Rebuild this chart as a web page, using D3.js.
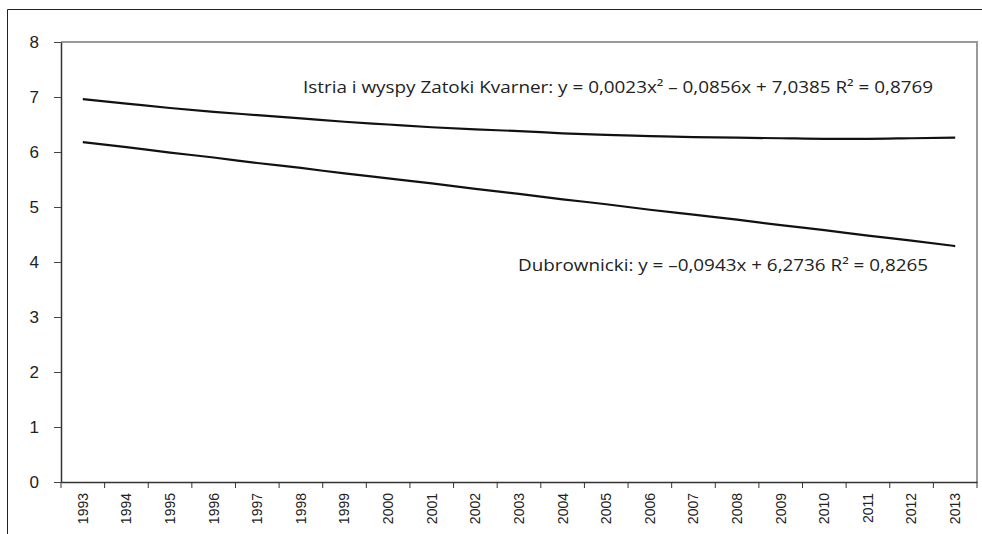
<!DOCTYPE html>
<html>
<head>
<meta charset="utf-8">
<script src="https://cdn.jsdelivr.net/npm/d3@7"></script>
<style>
  body { margin: 0; background: #fff; }
  svg { display: block; }
</style>
</head>
<body>
<div id="chart"></div>
<script>
// years on the category axis
const years = ["1993","1994","1995","1996","1997","1998","1999","2000","2001","2002",
  "2003","2004","2005","2006","2007","2008","2009","2010","2011","2012","2013"];
// trend values
const istria = [6.96,6.88,6.80,6.73,6.67,6.61,6.55,6.50,6.45,6.41,6.38,6.34,6.31,6.29,
  6.27,6.26,6.25,6.24,6.24,6.25,6.26];
const dubrownicki = [6.18,6.09,5.99,5.90,5.80,5.71,5.61,5.52,5.43,5.33,5.24,5.14,5.05,
  4.95,4.86,4.77,4.67,4.58,4.48,4.39,4.29];
const yTicks = [0,1,2,3,4,5,6,7,8];
const istriaLabel = "Istria i wyspy Zatoki Kvarner: y = 0,0023x\u00B2 \u2013 0,0856x + 7,0385 R\u00B2 = 0,8769";
const dubLabel = "Dubrownicki: y = \u20130,0943x + 6,2736 R\u00B2 = 0,8265";

const W = 982, H = 534;
const plot = {left: 61, top: 42, right: 977, bottom: 482};

const svg = d3.select("#chart").append("svg")
  .attr("width", W).attr("height", H);

// outer frame (top and left only visible)
svg.append("path")
  .attr("d", `M7.5,${H} V9.5 H${W}`)
  .attr("fill", "none").attr("stroke", "#222").attr("stroke-width", 1);

const x = d3.scaleBand().domain(years).range([plot.left, plot.right]);
const y = d3.scaleLinear().domain([0, 8]).range([plot.bottom, plot.top]);

// plot area border top/right in grey
svg.append("path")
  .attr("d", `M${plot.left},${plot.top} H${plot.right} V${plot.bottom}`)
  .attr("fill", "none").attr("stroke", "#999").attr("stroke-width", 2);

// y axis
const yAxis = svg.append("g")
  .attr("transform", `translate(${plot.left},0)`)
  .call(d3.axisLeft(y).tickValues(yTicks).tickSize(7).tickSizeOuter(0).tickPadding(15));
yAxis.select(".domain").attr("stroke", "#333").attr("stroke-width", 1.5);
yAxis.selectAll(".tick line").attr("stroke", "#444");
yAxis.selectAll("text")
  .attr("font-family", "Liberation Sans, Arial, sans-serif")
  .attr("font-size", 17).attr("fill", "#222");

// x axis: ticks on category boundaries
const xAxis = svg.append("g")
  .attr("transform", `translate(0,${plot.bottom})`)
  .call(d3.axisBottom(x).tickSize(0).tickPadding(0));
xAxis.select(".domain").attr("stroke", "#333").attr("stroke-width", 1.5);
xAxis.selectAll("text")
  .attr("font-family", "Liberation Sans, Arial, sans-serif")
  .attr("font-size", 14).attr("fill", "#222")
  .attr("text-anchor", "end")
  .attr("dy", "0.35em")
  .attr("transform", "translate(0,11) rotate(-90)")
  .attr("x", 0).attr("y", 0);
const bounds = years.map(d => x(d)).concat([x(years[years.length - 1]) + x.bandwidth()]);
xAxis.selectAll(".bound").data(bounds).join("line")
  .attr("class", "bound")
  .attr("x1", d => d).attr("x2", d => d)
  .attr("y1", 0).attr("y2", 6)
  .attr("stroke", "#333");

// trend lines
const line = d3.line()
  .x((d, i) => x(years[i]) + x.bandwidth() / 2)
  .y(d => y(d))
  .curve(d3.curveMonotoneX);

[istria, dubrownicki].forEach(series => {
  svg.append("path")
    .datum(series)
    .attr("d", line)
    .attr("fill", "none")
    .attr("stroke", "#111")
    .attr("stroke-width", 2.2);
});

// equation labels
svg.append("text")
  .attr("x", 303).attr("y", 93)
  .attr("font-family", "Open Sans, sans-serif")
  .attr("font-size", 16).attr("fill", "#222")
  .attr("textLength", 630).attr("lengthAdjust", "spacingAndGlyphs")
  .text(istriaLabel);
svg.append("text")
  .attr("x", 518).attr("y", 271)
  .attr("font-family", "Open Sans, sans-serif")
  .attr("font-size", 16).attr("fill", "#222")
  .attr("textLength", 410).attr("lengthAdjust", "spacingAndGlyphs")
  .text(dubLabel);
</script>
</body>
</html>
